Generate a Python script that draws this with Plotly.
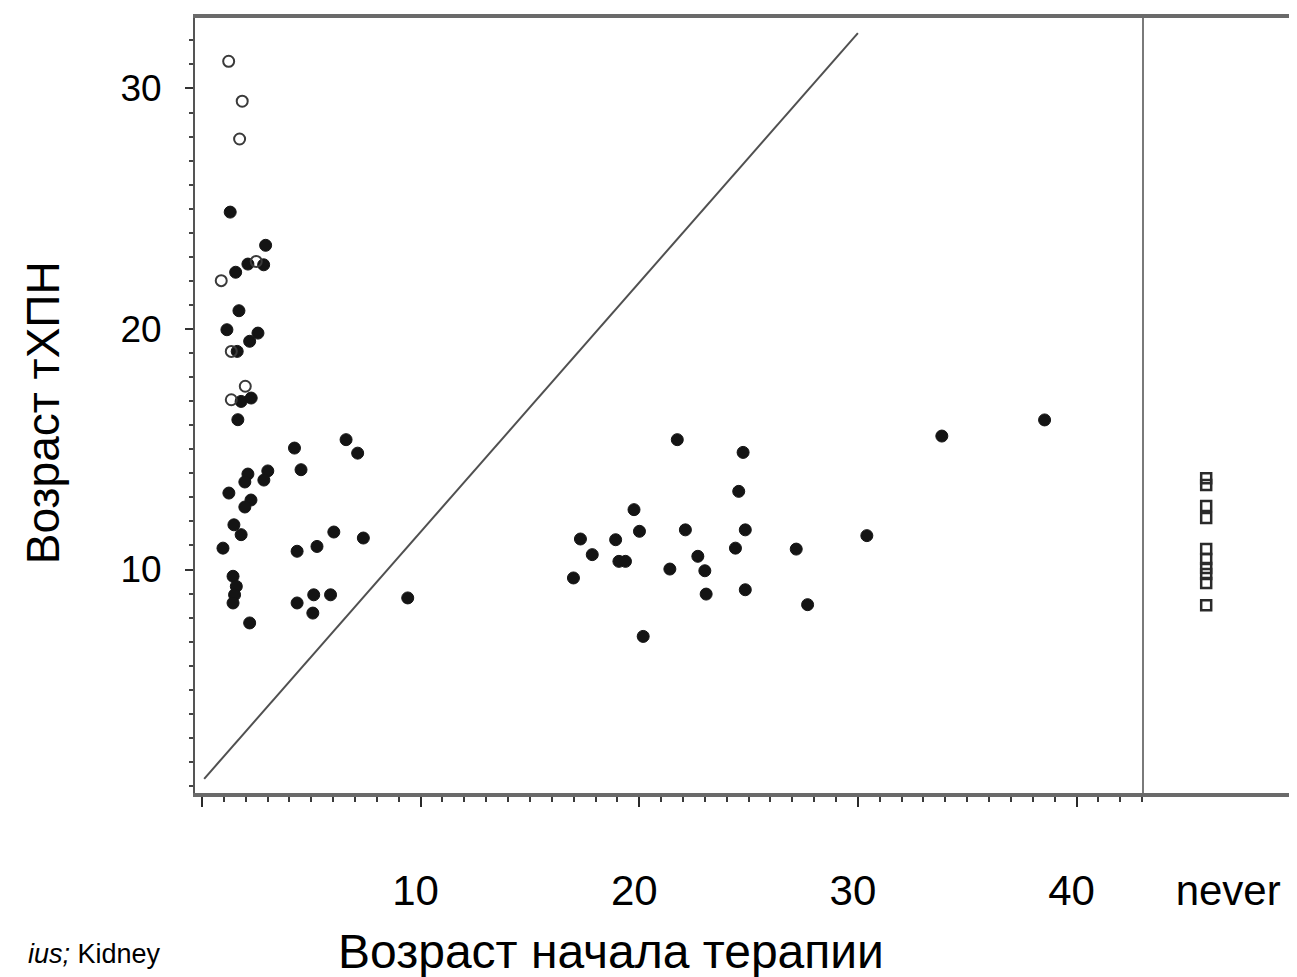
import plotly.graph_objects as go

# ---- data ----
# open circles
open_x = [1.22, 1.84, 1.72, 0.88, 2.48, 1.34, 1.98, 1.34]
open_y = [31.13, 29.47, 27.90, 22.01, 22.81, 19.07, 17.62, 17.06]

# filled circles
filled_x = [1.29, 2.91, 2.82, 2.10, 1.54, 1.69, 1.14, 2.56, 2.18, 1.61,
            1.79, 2.25, 1.64, 4.23, 6.59, 7.12, 4.53, 2.10, 1.96, 3.01,
            2.83, 1.23, 2.24, 1.96, 1.46, 1.79, 0.96, 4.35, 5.26, 6.03,
            7.38, 1.42, 1.57, 1.49, 1.42, 2.18, 4.35, 5.11, 5.07, 5.88,
            9.41,
            21.74, 24.75, 24.55, 19.76, 20.01, 22.11, 24.85, 18.92, 17.85, 17.31,
            19.07, 19.37, 16.99, 24.40, 27.18, 30.41, 22.68, 23.00, 21.40, 23.06,
            24.85, 27.70, 20.18,
            33.84, 38.54]
filled_y = [24.86, 23.48, 22.67, 22.70, 22.36, 20.76, 19.97, 19.83, 19.49, 19.07,
            16.99, 17.13, 16.23, 15.05, 15.40, 14.84, 14.15, 13.97, 13.64, 14.10,
            13.72, 13.18, 12.89, 12.60, 11.86, 11.45, 10.89, 10.76, 10.96, 11.56,
            11.31, 9.72, 9.30, 8.95, 8.61, 7.78, 8.61, 8.95, 8.19, 8.95,
            8.82,
            15.40, 14.87, 13.25, 12.49, 11.59, 11.65, 11.65, 11.24, 10.62, 11.27,
            10.34, 10.34, 9.65, 10.89, 10.85, 11.41, 10.55, 9.95, 10.02, 8.98,
            9.16, 8.54, 7.22,
            15.55, 16.22]

# never treated (squares)
never_cat = ["never"] * 10
never_y = [13.80, 13.51, 12.64, 12.14, 10.85, 10.44, 10.06, 9.81, 9.44, 8.52]

# reference line
diag_x = [0.1, 30.0]
diag_y = [1.3, 32.3]

x_tickvals = [0, 10, 20, 30, 40]
x_ticktext = ["", "10", "20", "30", "40"]
y_tickvals = [10, 20, 30]

x_title = "Возраст начала терапии"
y_title = "Возраст тХПН"
source_text = "<i>ius;</i> Kidney"

FONT = "Liberation Sans, Arial, sans-serif"
W, H = 1297, 977
L, R, T, B = 187, 2, 10, 192
PW = W - L - R
PH = H - T - B
AXIS_Y = H - B
split = (1138 - L) / PW

fig = go.Figure()
fig.add_trace(go.Scatter(x=diag_x, y=diag_y, mode="lines",
                         line=dict(color="#505050", width=2),
                         xaxis="x", yaxis="y", hoverinfo="skip"))
fig.add_trace(go.Scatter(x=filled_x, y=filled_y, mode="markers",
                         marker=dict(symbol="circle", size=12, color="#141414",
                                     line=dict(color="#141414", width=1)),
                         xaxis="x", yaxis="y"))
fig.add_trace(go.Scatter(x=open_x, y=open_y, mode="markers",
                         marker=dict(symbol="circle-open", size=11, color="#3a3a3a",
                                     line=dict(width=2)),
                         xaxis="x", yaxis="y"))
fig.add_trace(go.Scatter(x=never_cat, y=never_y, mode="markers",
                         marker=dict(symbol="square-open", size=10, color="#2a2a2a",
                                     line=dict(width=2.5)),
                         xaxis="x2", yaxis="y2"))

fig.update_layout(
    width=W, height=H,
    margin=dict(l=L, r=R, t=T, b=B),
    paper_bgcolor="white", plot_bgcolor="white",
    showlegend=False,
    font=dict(family=FONT, color="black"),
    xaxis=dict(domain=[0, split], range=[-0.32, 43.1], anchor="y",
               showline=True, linecolor="#6a6a6a", linewidth=4, mirror=True,
               showgrid=False, zeroline=False,
               tickmode="array", tickvals=x_tickvals, ticktext=x_ticktext,
               ticks="outside", ticklen=10, tickwidth=2, tickcolor="#2a2a2a",
               minor=dict(dtick=1, tick0=0, ticks="outside", ticklen=5,
                          tickwidth=2, tickcolor="#3a3a3a", showgrid=False),
               tickfont=dict(size=42, family=FONT, color="black"),
               ticklabelstandoff=48, ticklabelshift=-5),
    xaxis2=dict(domain=[split, 1], type="category", range=[-0.395, 0.605],
                anchor="y2",
                showline=True, linecolor="#6a6a6a", linewidth=4, mirror=True,
                showgrid=False, zeroline=False, ticks="",
                tickfont=dict(size=42, family=FONT, color="black"),
                ticklabelstandoff=58, ticklabelshift=22),
    yaxis=dict(domain=[0, 1], range=[0.71, 32.93], anchor="x",
               showline=True, linecolor="#555555", linewidth=2, mirror=False,
               showgrid=False, zeroline=False,
               tickmode="array", tickvals=y_tickvals,
               ticks="outside", ticklen=8, tickwidth=2, tickcolor="#333333",
               minor=dict(dtick=1, tick0=0, ticks="outside", ticklen=4,
                          tickwidth=2, tickcolor="#444444", showgrid=False),
               tickfont=dict(size=37, family=FONT, color="black"),
               ticklabelstandoff=16),
    yaxis2=dict(domain=[0, 1], matches="y", anchor="x2",
                showline=True, linecolor="#7a7a7a", linewidth=2, mirror=True,
                showgrid=False, zeroline=False,
                showticklabels=False, ticks=""),
    annotations=[
        dict(text=x_title, xref="paper", yref="paper",
             x=(604 - L) / PW, y=-(944 - AXIS_Y) / PH,
             xanchor="center", yanchor="middle", showarrow=False,
             font=dict(size=48, family=FONT, color="black")),
        dict(text=y_title, xref="paper", yref="paper", textangle=-90,
             x=(35 - L) / PW, y=(AXIS_Y - 405) / PH,
             xanchor="center", yanchor="middle", showarrow=False,
             font=dict(size=46, family=FONT, color="black")),
        dict(text=source_text, xref="paper", yref="paper",
             x=(155 - L) / PW, y=-(946 - AXIS_Y) / PH,
             xanchor="right", yanchor="middle", showarrow=False,
             font=dict(size=27, family=FONT, color="black")),
    ],
)

fig.write_html("out.html")
